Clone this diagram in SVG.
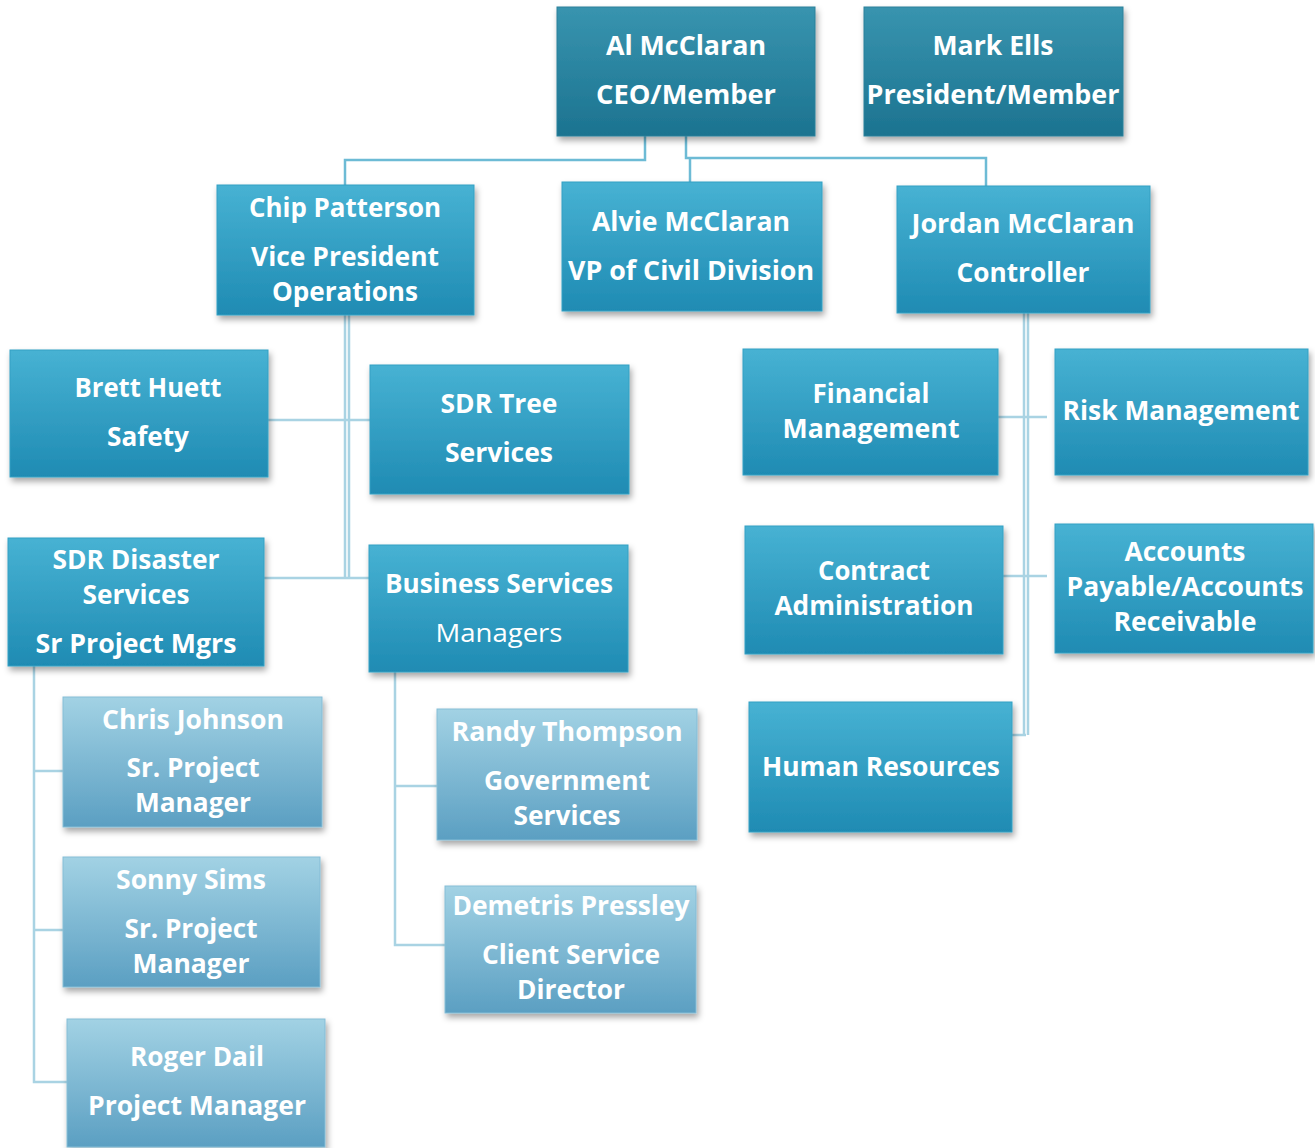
<svg xmlns="http://www.w3.org/2000/svg" width="1315" height="1148" viewBox="0 0 1315 1148">
<defs>
<linearGradient id="gDark" x1="0" y1="0" x2="0" y2="1"><stop offset="0" stop-color="#3894af"/><stop offset="1" stop-color="#1c7390"/></linearGradient>
<linearGradient id="gMid" x1="0" y1="0" x2="0" y2="1"><stop offset="0" stop-color="#47b2d3"/><stop offset="1" stop-color="#1f8bb3"/></linearGradient>
<linearGradient id="gLight" x1="0" y1="0" x2="0" y2="1"><stop offset="0" stop-color="#a2d2e4"/><stop offset="1" stop-color="#5b9fc2"/></linearGradient>
<filter id="sh" x="-10%" y="-10%" width="125%" height="130%"><feDropShadow dx="2" dy="4" stdDeviation="3" flood-color="#000" flood-opacity="0.35"/></filter>
</defs>
<style>
.box{filter:url(#sh);stroke-width:1}
.dark{fill:url(#gDark);stroke:#2a8099}
.mid{fill:url(#gMid);stroke:#34a0c3}
.light{fill:url(#gLight);stroke:#85bdd6}
text{font-family:"Open Sans","Liberation Sans",sans-serif;font-weight:700;font-size:26px;fill:#fff;text-anchor:middle}
.reg{font-weight:400}
.conn{fill:none;stroke:#6dbbd5;stroke-width:2.5}
.connL{fill:none;stroke:#a9d3e3;stroke-width:2.5}
</style>
<rect width="1315" height="1148" fill="#fff"/>
<g id="connectors">
<path class="conn" d="M645 136V160H345V185"/>
<path class="conn" d="M686 136V158H986V186"/>
<path class="conn" d="M690 158V182"/>
<path class="connL" d="M345 315V578M349 315V578"/>
<path class="connL" d="M268 420H370"/>
<path class="connL" d="M264 578H370"/>
<path class="connL" d="M34 666V1082H67M34 771H63M34 930H63"/>
<path class="connL" d="M395 672V945H445M395 786H437"/>
<path class="connL" d="M1024 313V735M1028 313V735"/>
<path class="connL" d="M998 417H1047M1003 576H1047M1012 735H1026"/>
</g>
<g id="n-al"><rect class="box dark" x="557" y="7" width="258" height="129"/><text x="686" y="55" textLength="160" lengthAdjust="spacingAndGlyphs">Al McClaran</text><text x="686" y="104" textLength="180" lengthAdjust="spacingAndGlyphs">CEO/Member</text></g>
<g id="n-mark"><rect class="box dark" x="864" y="7" width="259" height="129"/><text x="993" y="55" textLength="121" lengthAdjust="spacingAndGlyphs">Mark Ells</text><text x="993" y="104" textLength="253" lengthAdjust="spacingAndGlyphs">President/Member</text></g>
<g id="n-chip"><rect class="box mid" x="217" y="185" width="257" height="130"/><text x="345" y="217" textLength="192" lengthAdjust="spacingAndGlyphs">Chip Patterson</text><text x="345" y="266" textLength="188" lengthAdjust="spacingAndGlyphs">Vice President</text><text x="345" y="301" textLength="146" lengthAdjust="spacingAndGlyphs">Operations</text></g>
<g id="n-alvie"><rect class="box mid" x="562" y="182" width="260" height="129"/><text x="691" y="231" textLength="198" lengthAdjust="spacingAndGlyphs">Alvie McClaran</text><text x="691" y="280" textLength="246" lengthAdjust="spacingAndGlyphs">VP of Civil Division</text></g>
<g id="n-jordan"><rect class="box mid" x="897" y="186" width="253" height="127"/><text x="1023" y="233" textLength="223" lengthAdjust="spacingAndGlyphs">Jordan McClaran</text><text x="1023" y="282" textLength="133" lengthAdjust="spacingAndGlyphs">Controller</text></g>
<g id="n-brett"><rect class="box mid" x="10" y="350" width="258" height="127"/><text x="148" y="397" textLength="147" lengthAdjust="spacingAndGlyphs">Brett Huett</text><text x="148" y="446" textLength="82" lengthAdjust="spacingAndGlyphs">Safety</text></g>
<g id="n-sdrtree"><rect class="box mid" x="370" y="365" width="259" height="129"/><text x="499" y="413" textLength="117" lengthAdjust="spacingAndGlyphs">SDR Tree</text><text x="499" y="462" textLength="108" lengthAdjust="spacingAndGlyphs">Services</text></g>
<g id="n-sdrdis"><rect class="box mid" x="8" y="538" width="256" height="128"/><text x="136" y="569" textLength="167" lengthAdjust="spacingAndGlyphs">SDR Disaster</text><text x="136" y="604" textLength="107" lengthAdjust="spacingAndGlyphs">Services</text><text x="136" y="653" textLength="201" lengthAdjust="spacingAndGlyphs">Sr Project Mgrs</text></g>
<g id="n-bus"><rect class="box mid" x="369" y="545" width="259" height="127"/><text x="499" y="593" textLength="228" lengthAdjust="spacingAndGlyphs">Business Services</text><text class="reg" x="499" y="642" textLength="127" lengthAdjust="spacingAndGlyphs">Managers</text></g>
<g id="n-chris"><rect class="box light" x="63" y="697" width="259" height="130"/><text x="193" y="729" textLength="182" lengthAdjust="spacingAndGlyphs">Chris Johnson</text><text x="193" y="777" textLength="133" lengthAdjust="spacingAndGlyphs">Sr. Project</text><text x="193" y="812" textLength="116" lengthAdjust="spacingAndGlyphs">Manager</text></g>
<g id="n-sonny"><rect class="box light" x="63" y="857" width="257" height="130"/><text x="191" y="889" textLength="150" lengthAdjust="spacingAndGlyphs">Sonny Sims</text><text x="191" y="938" textLength="133" lengthAdjust="spacingAndGlyphs">Sr. Project</text><text x="191" y="973" textLength="117" lengthAdjust="spacingAndGlyphs">Manager</text></g>
<g id="n-roger"><rect class="box light" x="67" y="1019" width="258" height="128"/><text x="197" y="1066" textLength="134" lengthAdjust="spacingAndGlyphs">Roger Dail</text><text x="197" y="1115" textLength="218" lengthAdjust="spacingAndGlyphs">Project Manager</text></g>
<g id="n-randy"><rect class="box light" x="437" y="709" width="260" height="131"/><text x="567" y="741" textLength="231" lengthAdjust="spacingAndGlyphs">Randy Thompson</text><text x="567" y="790" textLength="166" lengthAdjust="spacingAndGlyphs">Government</text><text x="567" y="825" textLength="107" lengthAdjust="spacingAndGlyphs">Services</text></g>
<g id="n-demetris"><rect class="box light" x="445" y="886" width="251" height="127"/><text x="571" y="915" textLength="237" lengthAdjust="spacingAndGlyphs">Demetris Pressley</text><text x="571" y="964" textLength="178" lengthAdjust="spacingAndGlyphs">Client Service</text><text x="571" y="999" textLength="108" lengthAdjust="spacingAndGlyphs">Director</text></g>
<g id="n-fin"><rect class="box mid" x="743" y="349" width="255" height="126"/><text x="871" y="403" textLength="117" lengthAdjust="spacingAndGlyphs">Financial</text><text x="871" y="438" textLength="177" lengthAdjust="spacingAndGlyphs">Management</text></g>
<g id="n-risk"><rect class="box mid" x="1055" y="349" width="253" height="126"/><text x="1181" y="420" textLength="237" lengthAdjust="spacingAndGlyphs">Risk Management</text></g>
<g id="n-contract"><rect class="box mid" x="745" y="526" width="258" height="128"/><text x="874" y="580" textLength="112" lengthAdjust="spacingAndGlyphs">Contract</text><text x="874" y="615" textLength="199" lengthAdjust="spacingAndGlyphs">Administration</text></g>
<g id="n-ap"><rect class="box mid" x="1055" y="524" width="258" height="129"/><text x="1185" y="561" textLength="121" lengthAdjust="spacingAndGlyphs">Accounts</text><text x="1185" y="596" textLength="237" lengthAdjust="spacingAndGlyphs">Payable/Accounts</text><text x="1185" y="631" textLength="143" lengthAdjust="spacingAndGlyphs">Receivable</text></g>
<g id="n-hr"><rect class="box mid" x="749" y="702" width="263" height="130"/><text x="881" y="776" textLength="238" lengthAdjust="spacingAndGlyphs">Human Resources</text></g>
</svg>
